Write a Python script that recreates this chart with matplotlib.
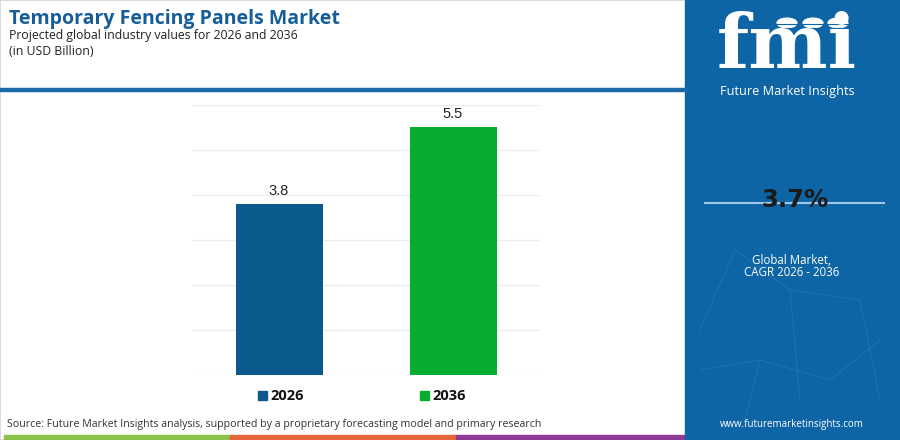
import matplotlib
matplotlib.use("Agg")
import matplotlib.pyplot as plt
from matplotlib.patches import Rectangle

# chart data
years = ["2026", "2036"]
values = [3.8, 5.5]
bar_colors = ["#0b5a8e", "#08ad2f"]
y_ticks = [0, 1, 2, 3, 4, 5, 6]

title = "Temporary Fencing Panels Market"
subtitle = "Projected global industry values for 2026 and 2036"
units = "(in USD Billion)"
source = "Source: Future Market Insights analysis, supported by a proprietary forecasting model and primary research"
cagr = "3.7%"

W, H = 900, 440


def fx(px):
  return px / W


def fy(py):
  return 1 - py / H


def main():
  fig = plt.figure(figsize=(9, 4.4), dpi=100)
  fig.patch.set_facecolor("white")

  # thin frame on the left/top
  fig.add_artist(Rectangle((fx(0), fy(440)), fx(686), 1, transform=fig.transFigure,
                           fill=False, edgecolor="#d6d6d6", lw=1.2))

  # header texts
  fig.text(fx(9), fy(19), title, fontsize=14, fontweight="bold", color="#175e98",
           family="Open Sans", va="center", ha="left")
  fig.text(fx(9), fy(36), subtitle, fontsize=8.8, color="#222222",
           family="Open Sans", va="center", ha="left")
  fig.text(fx(9), fy(51), units, fontsize=8.8, color="#222222",
           family="Open Sans", va="center", ha="left")

  # blue separator line
  fig.add_artist(plt.Line2D([fx(0), fx(686)], [fy(90.5), fy(90.5)], transform=fig.transFigure,
                            color="#1a6aa6", lw=3.2))

  # bar axes
  ax = fig.add_axes([fx(192), fy(375), fx(540) - fx(192), fy(105) - fy(375)])
  xs = list(range(len(years)))
  ax.bar(xs, values, width=0.5, color=bar_colors, zorder=3)
  for x, v in zip(xs, values):
    ax.text(x, v + 0.14, f"{v}", ha="center", va="bottom", fontsize=10.5,
            color="#222222", family="Liberation Sans")
  ax.set_xlim(-0.5, 1.5)
  ax.set_ylim(0, 6)
  ax.set_yticks(y_ticks)
  ax.set_xticks([])
  ax.grid(axis="y", color="#ececec", lw=0.9, zorder=0)
  ax.tick_params(left=False, labelleft=False)
  for s in ax.spines.values():
    s.set_visible(False)

  # legend
  leg_x = [258, 420]
  for lx, yr, c in zip(leg_x, years, bar_colors):
    fig.add_artist(Rectangle((fx(lx), fy(400)), fx(9), fy(391) - fy(400),
                             transform=fig.transFigure, color=c))
    fig.text(fx(lx + 12), fy(395.5), yr, fontsize=10.5, fontweight="bold",
             color="#111111", va="center", ha="left", family="Open Sans")

  # source
  fig.text(fx(7), fy(424), source, fontsize=7.7, color="#333333",
           family="Open Sans", va="center", ha="left")

  # bottom strip
  strip = [(4, 230, "#8bc34a"), (230, 456, "#e8663a"), (456, 684, "#8e3a96")]
  for x0, x1, c in strip:
    fig.add_artist(Rectangle((fx(x0), fy(440)), fx(x1 - x0), fy(435) - fy(440),
                             transform=fig.transFigure, color=c))

  # right panel
  fig.add_artist(Rectangle((fx(685), 0), fx(215), 1, transform=fig.transFigure,
                           color="#0e65a5"))

  # faint network lines
  net = [((700, 330), (735, 250)), ((735, 250), (790, 290)), ((790, 290), (860, 300)),
         ((700, 370), (760, 360)), ((760, 360), (830, 380)), ((830, 380), (880, 340)),
         ((745, 420), (760, 360)), ((860, 300), (880, 400)), ((790, 290), (800, 400))]
  for (x0, y0), (x1, y1) in net:
    fig.add_artist(plt.Line2D([fx(x0), fx(x1)], [fy(y0), fy(y1)], transform=fig.transFigure,
                              color="#3d86bd", lw=0.6, alpha=0.45))

  # logo
  fig.text(fx(787), fy(48), "fmi", fontsize=54, fontweight="bold", color="white",
           family="DejaVu Serif", ha="center", va="center")
  for yy in range(24, 76, 4):
    fig.add_artist(plt.Line2D([fx(715), fx(860)], [fy(yy), fy(yy)], transform=fig.transFigure,
                              color="#0e65a5", lw=0.8))
  for cx in [787, 813, 838]:
    fig.add_artist(plt.Circle((fx(cx), fy(23)), 0.011, transform=fig.transFigure,
                              color="white"))
  fig.text(fx(787), fy(92), "Future Market Insights", fontsize=9.2, color="white",
           family="Open Sans", ha="center", va="center")

  # CAGR
  fig.add_artist(plt.Line2D([fx(705), fx(884)], [fy(203), fy(203)], transform=fig.transFigure,
                            color="#9fc6e6", lw=1.5))
  fig.text(fx(795), fy(200), cagr, fontsize=17.5, fontweight="bold", color="#1a1a1a",
           family="DejaVu Sans", ha="center", va="center")
  fig.text(fx(792), fy(260), "Global Market,", fontsize=8.3, color="white",
           family="Open Sans", ha="center", va="center")
  fig.text(fx(792), fy(272), "CAGR 2026 - 2036", fontsize=8.3, color="white",
           family="Open Sans", ha="center", va="center")
  fig.text(fx(792), fy(424), "www.futuremarketinsights.com", fontsize=7, color="white",
           family="Open Sans", ha="center", va="center")

  fig.savefig("out.png", dpi=100)


if __name__ == "__main__":
  main()
